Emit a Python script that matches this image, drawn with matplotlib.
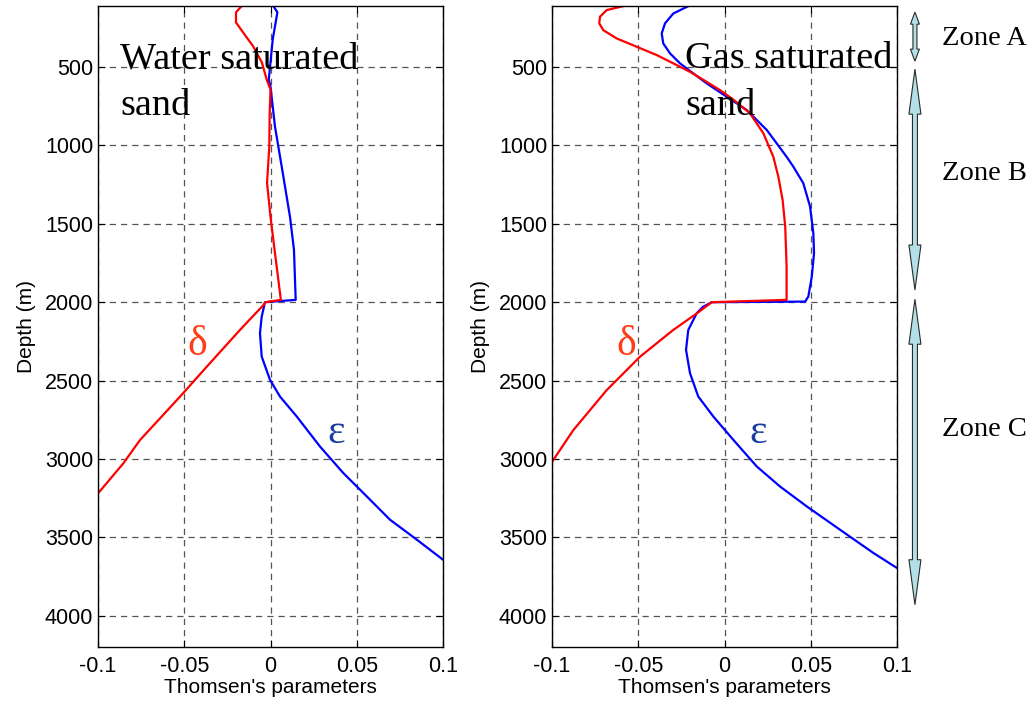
import numpy as np
import matplotlib
matplotlib.use("Agg")
import matplotlib.pyplot as plt
import matplotlib.transforms as mtransforms
from matplotlib.patches import Polygon

plt.rcParams['axes.unicode_minus'] = False
plt.rcParams['font.family'] = ['Liberation Sans', 'DejaVu Sans']

# Thomsen's parameters against depth (m)
# water saturated sand
water_delta_depth = [110, 150, 215, 280, 368, 470, 580, 643, 800, 1007, 1238, 1455, 1687, 1985,
                     2000, 2017, 2177, 2412, 2603, 2880, 3028, 3220]
water_delta = [-0.0167, -0.020, -0.020, -0.0158, -0.010, -0.005, -0.0022, 0.0, -0.0005, -0.0007,
               -0.002, 0.0, 0.0026, 0.006,
               -0.003, -0.004, -0.0177, -0.037, -0.0525, -0.0757, -0.0853, -0.1]
water_eps_depth = [110, 150, 323, 580, 624, 880, 1135, 1455, 1665, 1985,
                   2000, 2092, 2198, 2347, 2495, 2602, 2729, 2921, 3090, 3239, 3388, 3515, 3643]
water_eps = [0.0016, 0.004, 0.0013, -0.001, 0.0, 0.0026, 0.0065, 0.0113, 0.0136, 0.0146,
             -0.0032, -0.0051, -0.0061, -0.0051, -0.0003, 0.0055, 0.0152, 0.0287, 0.0422,
             0.0558, 0.0693, 0.0848, 0.1]

# gas saturated sand
gas_delta_depth = [111, 136, 179, 221, 264, 317, 370, 423, 476, 530, 594, 647, 707, 795, 922,
                   1072, 1199, 1348, 1518, 1773, 1985,
                   2000, 2071, 2177, 2348, 2561, 2817, 3019]
gas_delta = [-0.0587, -0.0683, -0.0722, -0.0726, -0.0703, -0.0625, -0.0509, -0.0393, -0.0297,
             -0.020, -0.0103, -0.0026, 0.0051, 0.0148, 0.0225, 0.0283, 0.0312, 0.0337, 0.0352,
             0.036, 0.036,
             -0.0074, -0.016, -0.0297, -0.049, -0.0683, -0.0877, -0.1]
gas_eps_depth = [111, 158, 221, 285, 349, 412, 476, 540, 604, 689, 774, 901, 1072, 1135, 1241,
                 1390, 1560, 1688, 1837, 1964, 1996,
                 2000, 2030, 2070, 2177, 2304, 2453, 2602, 2729, 2878, 3048, 3176, 3303, 3452,
                 3600, 3696]
gas_eps = [-0.021, -0.0297, -0.0345, -0.0364, -0.0355, -0.0316, -0.0258, -0.0181, -0.0103, 0.0013,
           0.0129, 0.0245, 0.036, 0.0399, 0.0457, 0.0496, 0.0515, 0.0519, 0.0506, 0.0486, 0.0467,
           -0.0074, -0.0125, -0.0161, -0.021, -0.0223, -0.020, -0.0152, -0.0065, 0.0051, 0.0187,
           0.0322, 0.0477, 0.067, 0.0863, 0.1]

xticks = [-0.1, -0.05, 0, 0.05, 0.1]
xtick_labels = ['-0.1', '-0.05', '0', '0.05', '0.1']
yticks = [500, 1000, 1500, 2000, 2500, 3000, 3500, 4000]

# zones: (name, top depth, bottom depth, label depth)
zones = [('Zone A', 149, 462, 315),
         ('Zone B', 513, 1922, 1176),
         ('Zone C', 1981, 3930, 2815)]

serif = ['Liberation Serif', 'DejaVu Serif']


def setup(ax):
    ax.set_xlim(-0.1, 0.1)
    ax.set_ylim(4200, 110)
    ax.set_xticks(xticks)
    ax.set_xticklabels(xtick_labels)
    ax.set_yticks(yticks)
    ax.set_axisbelow(True)
    ax.grid(True, color='#555555', linestyle=(0, (5, 4)), linewidth=0.9)
    ax.tick_params(direction='in', top=True, right=True, length=5, width=0.8,
                   labelsize=15.5, colors='black')
    ax.tick_params(axis='x', pad=6.5)
    ax.set_xlabel("Thomsen's parameters", fontsize=15, labelpad=1)
    ax.set_ylabel('Depth (m)', fontsize=15, labelpad=6)
    for s in ax.spines.values():
        s.set_linewidth(1.0)


def double_arrow(ax, y0, y1, xc, sw, hw, hl):
    trans = mtransforms.blended_transform_factory(ax.transAxes, ax.transData)
    pts = [(xc, y0), (xc + hw, y0 + hl), (xc + sw, y0 + hl), (xc + sw, y1 - hl),
           (xc + hw, y1 - hl), (xc, y1), (xc - hw, y1 - hl), (xc - sw, y1 - hl),
           (xc - sw, y0 + hl), (xc - hw, y0 + hl)]
    ax.add_patch(Polygon(pts, closed=True, transform=trans, clip_on=False,
                         facecolor='#b3dfe6', edgecolor='#2a2a2a', linewidth=0.8))


fig = plt.figure(figsize=(10.34, 7.07), dpi=100)
ax1 = fig.add_axes([98 / 1034, 1 - 647 / 707, 345 / 1034, 641 / 707])
ax2 = fig.add_axes([552 / 1034, 1 - 647 / 707, 345 / 1034, 641 / 707])

for ax in (ax1, ax2):
    setup(ax)

ax1.plot(water_eps, water_eps_depth, color='#0000ff', lw=1.6)
ax1.plot(water_delta, water_delta_depth, color='#ff0000', lw=1.6)
ax2.plot(gas_eps, gas_eps_depth, color='#0000ff', lw=1.6)
ax2.plot(gas_delta, gas_delta_depth, color='#ff0000', lw=1.6)

# panel titles, one text per line
for ax, x0, first in ((ax1, -0.0872, 'Water saturated'), (ax2, -0.0229, 'Gas saturated')):
    ax.text(x0, 506, first, family=serif, fontsize=27.5, va='baseline', ha='left')
    ax.text(x0, 806, 'sand', family=serif, fontsize=27.5, va='baseline', ha='left')

for ax, xd, xe in ((ax1, -0.0425, 0.038), (ax2, -0.0571, 0.0194)):
    ax.text(xd, 2272, 'δ', family=serif, fontsize=30, color='#ff3c14', ha='center', va='center')
    ax.text(xe, 2833, 'ε', family=serif, fontsize=30, color='#1a3d9e', ha='center', va='center')

for name, top, bottom, ylab in zones:
    if name == 'Zone A':
        double_arrow(ax2, top, bottom, 1.052, 0.0058, 0.013, 77)
    else:
        double_arrow(ax2, top, bottom, 1.052, 0.0072, 0.0174, 287)
    ax2.text(1.13, ylab, name, family=serif, fontsize=20.5, va='center', ha='left',
             transform=mtransforms.blended_transform_factory(ax2.transAxes, ax2.transData))

fig.savefig('out.png', dpi=100)
